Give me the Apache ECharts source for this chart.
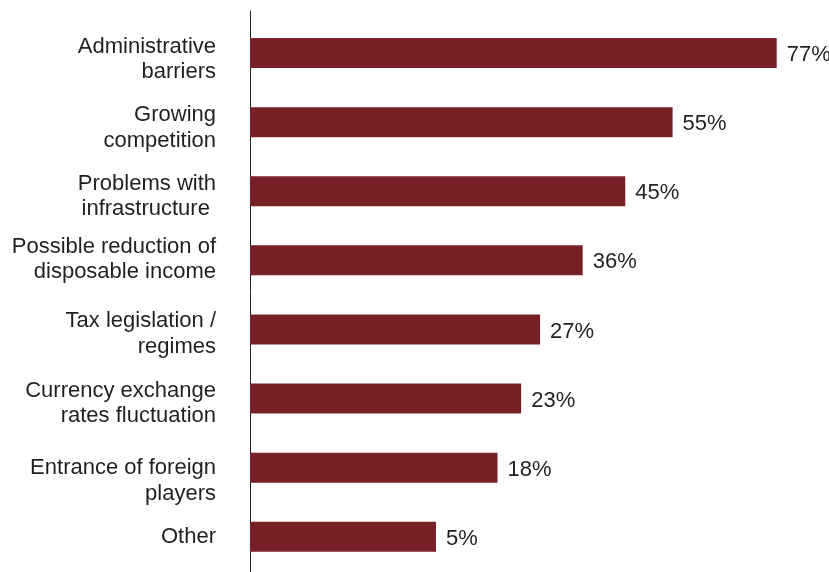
<!DOCTYPE html>
<html>
<head>
<meta charset="utf-8">
<script src="https://cdn.jsdelivr.net/npm/echarts@6/dist/echarts.min.js"></script>
<style>
  html, body { margin: 0; padding: 0; background: #ffffff; }
  #chart { width: 829px; height: 572px; }
</style>
</head>
<body>
<div id="chart"></div>
<script>
// Survey answers: main obstacles, share of respondents (%)
const categories = [
  'Administrative\nbarriers',
  'Growing\ncompetition',
  'Problems with\ninfrastructure ',
  'Possible reduction of\ndisposable income',
  'Tax legislation /\nregimes',
  'Currency exchange\nrates fluctuation',
  'Entrance of foreign\nplayers',
  'Other'
];
const shares = [77, 55, 45, 36, 27, 23, 18, 5];

// Value-axis extent; bars grow from the left end of the axis
const axisStart = -34.3;
const axisEnd = 77;

// Small vertical nudges (px) for the category captions
const labelNudge = [6.5, 6, 5, -1, 4.5, 5, 13.5, 0];

const textColor = '#231f20';
const barColor = '#772126';
const fontFamily = '"Liberation Sans", Arial, Helvetica, sans-serif';
const fontSize = 22;

// Rich styles: 't' for caption lines, 'sN' for an invisible spacer line
const rich = {
  t: { fontSize: fontSize, lineHeight: 25.6, color: textColor, fontFamily: fontFamily, align: 'right' }
};
labelNudge.forEach((n, i) => {
  rich['s' + i] = { fontSize: 1, lineHeight: Math.max(1, 2 * Math.abs(n)), color: 'rgba(0,0,0,0)', align: 'right' };
});

function captionFormatter(value, index) {
  const lines = value.split('\n').map(l => '{t|' + l + '}');
  const n = labelNudge[index];
  if (n > 0) lines.unshift('{s' + index + '| }');
  else if (n < 0) lines.push('{s' + index + '| }');
  return lines.join('\n');
}

const chart = echarts.init(document.getElementById('chart'), null, { renderer: 'canvas' });

chart.setOption({
  animation: false,
  backgroundColor: '#ffffff',
  grid: [
    { left: 250, right: 52.3, top: 18.5, bottom: 0.7, containLabel: false },
    { left: 250, width: 10, top: 11, bottom: 0, containLabel: false }
  ],
  xAxis: [
    {
      type: 'value', gridIndex: 0, min: axisStart, max: axisEnd, startValue: axisStart,
      show: false, splitLine: { show: false }
    },
    { type: 'value', gridIndex: 1, min: 0, max: 1, show: false }
  ],
  yAxis: [
    {
      type: 'category', gridIndex: 0, inverse: true, data: categories,
      axisLine: { show: false },
      axisTick: { show: false },
      axisLabel: {
        margin: 34, color: textColor, fontSize: fontSize, fontFamily: fontFamily,
        align: 'right', formatter: captionFormatter, rich: rich
      }
    },
    {
      type: 'value', gridIndex: 1, min: 0, max: 1, position: 'left',
      axisLine: { show: true, lineStyle: { color: textColor, width: 1 } },
      axisTick: { show: false },
      axisLabel: { show: false },
      splitLine: { show: false }
    }
  ],
  series: [
    {
      type: 'bar',
      xAxisIndex: 0,
      yAxisIndex: 0,
      data: shares,
      barWidth: 30,
      itemStyle: { color: barColor },
      label: {
        show: true,
        position: 'right',
        distance: 10,
        offset: [0, 2],
        color: textColor,
        fontSize: fontSize,
        fontFamily: fontFamily,
        formatter: p => p.value + '%'
      }
    }
  ]
});
</script>
</body>
</html>
